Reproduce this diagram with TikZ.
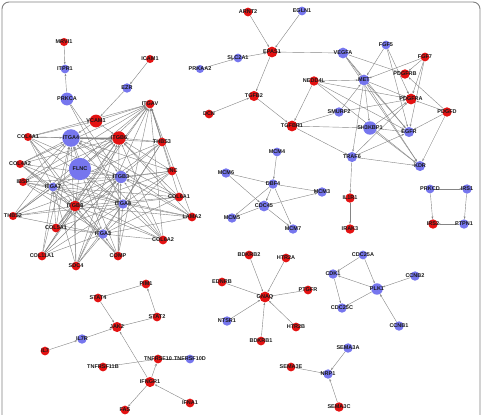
\documentclass[tikz,border=0pt]{standalone}
\usepackage{fontspec}
\setmainfont{Liberation Sans}
\usetikzlibrary{arrows.meta,backgrounds}
\definecolor{upred}{RGB}{228,18,18}
\definecolor{dnblue}{RGB}{118,118,238}
\tikzset{
  upnode/.style={circle,fill=upred,inner sep=0pt,minimum size=#1*1.15},
  upnode/.default=6pt,
  dnnode/.style={circle,fill=dnblue,inner sep=0pt,minimum size=#1*1.15},
  dnnode/.default=6pt,
  gname/.style={font=\bfseries\fontsize{4.7}{5}\selectfont,text=black!90,inner sep=0pt},
  lnk/.style={draw=black!48,line width=0.35pt,-{Stealth[length=2.2pt,width=1.6pt]}},
  frame/.style={draw=black!50,line width=0.8pt,rounded corners=6pt}
}
\begin{document}
\begin{tikzpicture}[x=0.03cm,y=-0.03cm]
\useasboundingbox (0,0) rectangle (483,414);
\draw[frame] (2,430)--(2,2)--(480,2)--(480,430);
% up-regulated genes
\foreach \n/\x/\y/\s in {MRVI1/64/42/6pt,ICAM1/150/59/6pt,VCAM1/96/121/9.5pt,ITGAV/150/104/6.5pt,
  COL4A1/28/137/6pt,ITGB6/119/138/10pt,THBS3/162/142/6.5pt,COL4A2/20/164/6pt,TNC/172/171/6.5pt,
  IBSP/23/182/6pt,COL6A1/179/197/6.5pt,ITGB8/75/206/8pt,THBS2/13/216/6pt,LAMA2/192/217/6.5pt,
  COL5A1/56/228/6.5pt,COL6A2/163/240/6.5pt,COL11A1/42/256/6.5pt,COMP/118/256/6.5pt,SDC4/76/266/6.5pt,
  PIM1/146/284/6.5pt,STAT4/98/298/6.5pt,STAT2/157/317/6.5pt,JAK2/117/327/7.5pt,IL7/45/351/6.5pt,
  TNFRSF10/158/359/6.5pt,TNFRSF11B/103/367/6.5pt,IFNGR1/150/382/7.5pt,IFNA1/190/403/6.5pt,FAS/125/410/6.5pt,
  ARNT2/248/12/6.5pt,EPAS1/272/52/8pt,TGFB2/254/96/7.5pt,DCN/209/114/6.5pt,NEDD4L/314/81/7pt,
  TGFBR1/292/126/8pt,FGF7/425/57/6.5pt,PDGFRB/405/74/7pt,PDGFRA/411/99/8pt,PDGFD/447/112/7pt,
  IL1R1/350/198/7pt,IRAK3/350/229/7pt,IRS2/433/224/7pt,
  BDKRB2/249/255/6.5pt,HTR2A/286/258/6.5pt,EDNRB/222/282/6.5pt,GNAQ/265/297/8pt,PTGFR/308/290/6.5pt,
  HTR2B/296/327/6.5pt,BDKRB1/261/341/6.5pt,SEMA3E/291/367/6.5pt,SEMA3C/339/407/7pt}
  \node[upnode=\s,label={[gname]center:\n}] (\n) at (\x,\y) {};
% down-regulated genes
\foreach \n/\x/\y/\s in {ITPR1/65/69/6.5pt,PRKCA/67/99/9.5pt,EZR/127/88/7pt,ITGA4/71/138/13pt,
  FLNC/80/169/16.5pt,ITGA7/53/187/6.5pt,ITGB3/121/177/9pt,ITGA8/123/204/7pt,ITGA3/103/234/7pt,
  IL7R/82/339/7pt,TNFRSF10D/190/359/6.5pt,EGLN1/302/11/6.5pt,SLC2A1/238/58/6.5pt,PRKAA2/200/69/6pt,
  VEGFA/343/53/8pt,FGF5/386/45/6.5pt,MET/364/80/8pt,SMURF2/339/112/7pt,SH3KBP1/370/128/10pt,
  EGFR/409/132/7.5pt,TRAF6/352/157/7.5pt,KDR/420/166/7.5pt,PRKCD/430/189/6.5pt,IRS1/467/189/7pt,
  PTPN1/464/224/7pt,MCM4/277/152/6.5pt,MCM6/226/173/7pt,DBF4/273/184/7pt,MCM3/322/192/7pt,
  CDC45/264/206/8pt,MCM5/232/218/7pt,MCM7/293/229/7pt,NTSR1/227/321/7pt,CDC25A/363/255/6.5pt,
  CDK1/333/274/7pt,CCNB2/415/276/7pt,PLK1/377/289/8.5pt,CDC25C/342/308/7pt,CCNB1/399/326/7pt,
  SEMA3A/348/348/7pt,NRP1/328/374/7pt}
  \node[dnnode=\s,label={[gname]center:\n}] (\n) at (\x,\y) {};
%
\begin{scope}[on background layer]
% integrin / ECM block
\foreach \e in {COL4A1,COL4A2,IBSP,THBS2,COL5A1,COL11A1,SDC4,COMP,COL6A2,LAMA2,COL6A1,TNC,THBS3}
  \foreach \i in {ITGA4,ITGB6,ITGB3,ITGA7,ITGB8,ITGA8,ITGA3,ITGAV}
    \draw[lnk] (\e)--(\i);
\foreach \i in {ITGA4,ITGB6,ITGB3,ITGA7,ITGB8,ITGA8,ITGA3,ITGAV}
  \draw[lnk] (FLNC)--(\i);
\foreach \a/\b in {MRVI1/ITPR1,PRKCA/ITPR1,ICAM1/EZR,EZR/VCAM1,VCAM1/ITGA4,VCAM1/ITGB6,VCAM1/ITGAV,
  COL4A1/VCAM1,PRKCA/ITGB3,PRKCA/ITGA8,ITGA4/ITGB6,
  PIM1/STAT4,STAT2/PIM1,STAT4/JAK2,STAT2/JAK2,IL7R/JAK2,IL7/IL7R,IFNGR1/JAK2,
  TNFRSF10/TNFRSF10D,TNFRSF11B/TNFRSF10,IFNGR1/TNFRSF10,IFNA1/IFNGR1,IFNGR1/FAS,
  ARNT2/EPAS1,EGLN1/EPAS1,SLC2A1/EPAS1,PRKAA2/SLC2A1,VEGFA/EPAS1,EPAS1/TGFB2,DCN/TGFB2,TGFB2/TGFBR1,
  NEDD4L/TGFBR1,SMURF2/TGFBR1,SH3KBP1/TGFBR1,TGFBR1/TRAF6,
  NEDD4L/MET,NEDD4L/PDGFRA,NEDD4L/EGFR,NEDD4L/KDR,
  VEGFA/MET,VEGFA/PDGFRB,VEGFA/KDR,VEGFA/EGFR,FGF5/MET,FGF5/PDGFRA,FGF5/EGFR,
  FGF7/PDGFRB,FGF7/PDGFRA,FGF7/EGFR,FGF7/MET,PDGFD/PDGFRA,PDGFD/PDGFRB,PDGFD/KDR,PDGFD/EGFR,
  MET/PDGFRA,MET/SH3KBP1,MET/TRAF6,MET/KDR,MET/EGFR,SMURF2/MET,SMURF2/PDGFRA,
  SH3KBP1/PDGFRA,SH3KBP1/EGFR,SH3KBP1/KDR,TRAF6/KDR,TRAF6/PDGFRA,TRAF6/EGFR,
  TRAF6/IL1R1,IL1R1/IRAK3,PRKCD/IRS1,IRS1/PTPN1,PTPN1/IRS2,PRKCD/IRS2,
  MCM4/DBF4,MCM6/DBF4,MCM6/CDC45,DBF4/MCM3,DBF4/MCM5,DBF4/MCM7,DBF4/CDC45,
  CDC45/MCM3,CDC45/MCM5,CDC45/MCM7,
  BDKRB2/GNAQ,HTR2A/GNAQ,EDNRB/GNAQ,PTGFR/GNAQ,NTSR1/GNAQ,HTR2B/GNAQ,BDKRB1/GNAQ,
  CDC25A/CDK1,CDC25A/PLK1,PLK1/CDK1,CDK1/CDC25C,PLK1/CDC25C,CCNB2/PLK1,CCNB1/PLK1,
  SEMA3A/NRP1,SEMA3E/NRP1,SEMA3C/NRP1}
  \draw[lnk] (\a)--(\b);
\end{scope}
\end{tikzpicture}
\end{document}
